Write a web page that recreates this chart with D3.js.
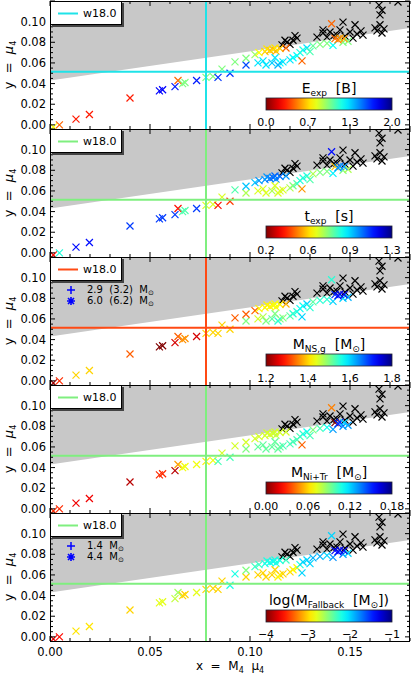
<!DOCTYPE html>
<html lang="en">
<head>
<meta charset="UTF-8">
<title>mu4 vs M4 mu4</title>
<script src="https://d3js.org/d3.v7.min.js"></script>
<style>
body{margin:0;background:#fff;}
text{font-family:"DejaVu Sans",sans-serif;fill:#000;white-space:pre;}
</style>
</head>
<body>
<div id="chart"></div>
<script>
// exploding models: x = M4*mu4, y = mu4
var xVals = [0.0017,0.0047,0.013,0.0197,0.040,0.0547,0.0563,0.0625,0.064,0.0663,0.0675,0.0733,0.078,0.0815,0.084,0.086,0.090,0.0925,0.098,0.098,
  0.1025,0.104,0.1065,0.1075,0.110,0.1115,0.113,0.115,0.1125,0.115,0.1165,0.118,0.120,0.1215,0.1235,0.125,0.1265,0.126,0.1285,0.1315,
  0.135,0.1385,0.1415,0.1465,0.149,0.1425,0.145,0.144,0.147,0.1408,0.108,0.111,0.114,0.1085,0.1125,0.1045,0.130];
var yVals = [-0.002,0.000,0.0055,0.010,0.026,0.033,0.034,0.037,0.043,0.040,0.041,0.043,0.046,0.047,0.046,0.054,0.050,0.061,0.058,0.0645,
  0.068,0.060,0.062,0.071,0.072,0.073,0.0715,0.074,0.065,0.060,0.061,0.0745,0.063,0.065,0.067,0.070,0.0725,0.062,0.0745,0.0765,
  0.078,0.079,0.077,0.080,0.081,0.0835,0.084,0.0825,0.0835,0.098,0.058,0.060,0.058,0.0735,0.0745,0.070,0.071];
var eExp = [0.75,0.45,0.30,0.30,0.30,1.75,1.75,1.70,0.45,1.00,1.00,1.70,1.00,1.00,1.65,1.00,1.65,1.00,1.60,1.00,
  0.95,1.30,1.30,0.65,0.60,0.65,0.60,0.65,1.30,1.25,1.30,0.45,1.30,1.25,1.25,1.20,1.20,0.45,1.30,1.05,
  1.00,1.00,1.25,1.00,1.00,0.45,0.60,0.50,0.55,0.45,1.30,1.35,1.40,0.70,0.70,0.75,1.10];
var tExp = [0.35,0.85,1.15,1.15,1.10,1.10,1.10,1.10,0.35,0.80,0.80,1.10,0.65,0.65,0.35,0.65,0.40,0.80,0.70,0.95,
  0.95,0.65,0.65,1.00,1.05,1.05,1.00,1.05,0.65,0.65,0.65,1.00,0.70,0.75,0.80,0.85,0.85,0.50,0.85,0.70,
  0.75,0.75,0.90,0.75,0.70,0.55,1.05,1.00,1.00,1.15,0.65,0.70,0.65,1.00,1.05,1.00,0.80];
var mNS = [1.22,1.30,1.40,1.40,1.33,1.20,1.20,1.25,1.33,1.36,1.36,1.25,1.40,1.40,1.40,1.40,1.40,1.33,1.50,1.33,
  1.33,1.45,1.47,1.42,1.42,1.42,1.43,1.42,1.50,1.50,1.50,1.38,1.52,1.55,1.55,1.57,1.57,1.60,1.60,1.52,
  1.55,1.55,1.60,1.60,1.62,1.70,1.75,1.72,1.74,1.55,1.50,1.52,1.55,1.42,1.43,1.42,1.55];
var mNi = [0.03,0.03,0.02,0.02,0.01,0.03,0.03,0.01,0.05,0.07,0.07,0.07,0.065,0.07,0.10,0.075,0.10,0.075,0.09,0.075,
  0.075,0.095,0.095,0.075,0.075,0.075,0.08,0.075,0.095,0.095,0.10,0.075,0.10,0.10,0.10,0.10,0.105,0.04,0.11,0.09,
  0.10,0.11,0.13,0.13,0.13,0.0,0.15,0.15,0.12,0.045,0.095,0.095,0.095,0.075,0.075,0.075,0.10];
var logMfb = [-3.7,-3.6,-2.95,-2.95,-3.0,-2.8,-2.8,-2.7,-2.6,-3.0,-3.0,-2.8,-3.0,-3.0,-3.0,-3.0,-2.2,-2.2,-3.0,-2.5,
  -2.3,-3.0,-3.0,-2.2,-2.2,-2.1,-2.2,-2.2,-3.0,-3.0,-3.0,-2.3,-3.0,-2.9,-2.9,-2.2,-2.0,-2.0,-2.0,-1.9,
  -1.9,-2.0,-1.8,-1.8,-2.0,-1.4,-1.3,-1.4,-1.3,-2.0,-3.0,-3.0,-2.9,-2.2,-2.2,-2.3,-2.0];

// BH forming models (black)
var bhX = [0.116,0.1185,0.1215,0.1235,0.1175,0.120,0.1225,0.1335,0.1365,0.140,0.1435,0.1465,0.150,0.1525,0.1535,0.1565,
  0.1475,0.145,0.1515,0.1625,0.165,0.166,0.1635,0.165,0.166,0.1645,0.174,0.1385,0.142,0.1555,0.167,0.1365];
var bhY = [0.0775,0.080,0.082,0.084,0.082,0.078,0.0865,0.085,0.089,0.090,0.087,0.0995,0.090,0.097,0.088,0.087,
  0.086,0.092,0.084,0.094,0.097,0.089,0.091,0.1065,0.111,0.116,0.119,0.085,0.0865,0.091,0.093,0.092];

// w18.0 calibration
var refX = 0.078, refY = 0.0515;
var k1 = 0.283, k2 = 0.043;

var xTicks = [0, 0.05, 0.10, 0.15];
var yTicks = [0, 0.02, 0.04, 0.06, 0.08, 0.10];
var eTicks = [0, 2/3, 4/3, 2];
var tTicks = [0.2, 0.2+1.1/3, 0.2+2.2/3, 1.3];
var nsTicks = [1.2, 1.4, 1.6, 1.8];
var niTicks = [0, 0.06, 0.12, 0.18];
var fbTicks = [-4, -3, -2, -1];

var panels = [
  {vals:eExp, ticks:eTicks, fmt:".1f", line:"#1fe3e8", title:[["E"],["exp","s"],["  [B]"]]},
  {vals:tExp, ticks:tTicks, fmt:".1f", line:"#7fef7f", title:[["t"],["exp","s"],["  [s]"]]},
  {vals:mNS, ticks:nsTicks, fmt:".1f", line:"#ff4a14", title:[["M"],["NS,g","s"],["  [M"],["\u2299","s"],["]"]],
    mass:["2.9  (3.2)  M","6.0  (6.2)  M"]},
  {vals:mNi, ticks:niTicks, fmt:".2f", line:"#7fef7f", title:[["M"],["Ni+Tr","s"],["  [M"],["\u2299","s"],["]"]]},
  {vals:logMfb, ticks:fbTicks, fmt:"d", line:"#7fef7f", title:[["log(M"],["Fallback","s"],["  [M"],["\u2299","s"],["])"]],
    mass:["1.4  M","4.4  M"]}
];

var width = 411, height = 675;
var left = 50, right = 410, top0 = 1, panelH = 128;

var svg = d3.select("#chart").append("svg")
  .attr("width", width).attr("height", height);

function jet(t) {
  var c = function(v) { return Math.max(0, Math.min(1, v)); };
  return d3.rgb(255*c(1.5-Math.abs(4*t-3)), 255*c(1.5-Math.abs(4*t-2)), 255*c(1.5-Math.abs(4*t-1)));
}

// colorbar gradient: dark red -> dark blue
var grad = svg.append("defs").append("linearGradient").attr("id", "cbgrad");
d3.range(0, 1.0001, 0.05).forEach(function(t) {
  grad.append("stop").attr("offset", (t*100)+"%").attr("stop-color", jet(1-t));
});

function rich(sel, parts, size, subSize) {
  var shifted = false;
  parts.forEach(function(p) {
    var ts = sel.append("tspan").text(p[0]);
    if (p[1] === "s") {
      ts.attr("font-size", subSize).attr("dy", shifted ? 0 : size*0.22);
      shifted = true;
    } else {
      ts.attr("font-size", size);
      if (shifted) { ts.attr("dy", -size*0.22); shifted = false; }
    }
  });
}

var x = d3.scaleLinear().domain([0, 0.18]).range([left, right]);
var crossPath = "M-3.5,-3.5L3.5,3.5M-3.5,3.5L3.5,-3.5";

panels.forEach(function(p, i) {
  var top = top0 + i*panelH, bot = top + panelH;
  var y = d3.scaleLinear().domain([-0.004, 0.12]).range([bot, top]);
  var g = svg.append("g");

  g.append("clipPath").attr("id", "clip"+i).append("rect")
    .attr("x", left).attr("y", top).attr("width", right-left).attr("height", panelH);
  var pg = g.append("g").attr("clip-path", "url(#clip"+i+")");

  // failed-explosion region
  var area = d3.area().x(function(d){ return x(d); })
    .y0(y(0.12)).y1(function(d){ return y(k2 + k1*d); });
  pg.append("path").attr("d", area([0, 0.18])).attr("fill", "#c8c8c8");

  // BH models
  pg.selectAll("path.bh").data(bhX).enter().append("path")
    .attr("class", "bh")
    .attr("transform", function(d, j){ return "translate("+x(d)+","+y(bhY[j])+")"; })
    .attr("d", crossPath).attr("stroke", "#000").attr("stroke-width", 1.2).attr("fill", "none");

  var lo = p.ticks[0], hi = p.ticks[p.ticks.length-1];
  pg.selectAll("path.ex").data(xVals).enter().append("path")
    .attr("class", "ex")
    .attr("transform", function(d, j){ return "translate("+x(d)+","+y(yVals[j])+")"; })
    .attr("d", crossPath)
    .attr("stroke", function(d, j){ return jet(1 - (p.vals[j]-lo)/(hi-lo)); })
    .attr("stroke-width", 1.2).attr("fill", "none");

  // reference lines
  pg.append("line").attr("x1", left).attr("x2", right).attr("y1", y(refY)).attr("y2", y(refY))
    .attr("stroke", p.line).attr("stroke-width", 2);
  pg.append("line").attr("x1", x(refX)).attr("x2", x(refX)).attr("y1", top).attr("y2", bot)
    .attr("stroke", p.line).attr("stroke-width", 2);

  // ticks on all four sides, pointing inwards
  var yMinor = d3.range(0, 0.1201, 0.005);
  var xMinor = d3.range(0, 0.1801, 0.01);
  yMinor.forEach(function(v) {
    var major = Math.abs(v/0.02 - Math.round(v/0.02)) < 1e-6;
    var len = major ? 5 : 3;
    g.append("line").attr("x1", left).attr("x2", left+len).attr("y1", y(v)).attr("y2", y(v)).attr("stroke", "#000");
    g.append("line").attr("x1", right).attr("x2", right-len).attr("y1", y(v)).attr("y2", y(v)).attr("stroke", "#000");
  });
  xMinor.forEach(function(v) {
    var major = Math.abs(v/0.05 - Math.round(v/0.05)) < 1e-6;
    var len = major ? 5 : 3;
    g.append("line").attr("x1", x(v)).attr("x2", x(v)).attr("y1", bot).attr("y2", bot-len).attr("stroke", "#000");
    g.append("line").attr("x1", x(v)).attr("x2", x(v)).attr("y1", top).attr("y2", top+len).attr("stroke", "#000");
  });
  g.append("rect").attr("x", left+0.5).attr("y", top+0.5).attr("width", right-left-1).attr("height", panelH)
    .attr("fill", "none").attr("stroke", "#000").attr("stroke-width", 1);

  g.selectAll("text.yt").data(yTicks).enter().append("text")
    .attr("class", "yt").attr("x", 46).attr("y", function(d){ return y(d)+4; })
    .attr("text-anchor", "end").attr("font-size", 11.5)
    .text(d3.format(".2f"));

  var yl = g.append("text").attr("transform", "translate(13,"+(top+panelH/2)+") rotate(-90)")
    .attr("text-anchor", "middle");
  rich(yl, [["y  =  "], ["\u03bc"], ["4","s"]], 13, 8);
  yl.select("tspan:nth-child(2)").attr("font-style", "italic");

  // legend box
  g.append("rect").attr("x", left+2).attr("y", top+2).attr("width", 72).attr("height", 24).attr("fill", "#444");
  g.append("rect").attr("x", left+0.5).attr("y", top+0.5).attr("width", 71).attr("height", 23)
    .attr("fill", "#fff").attr("stroke", "#000");
  g.append("line").attr("x1", 58).attr("x2", 78).attr("y1", top+12.5).attr("y2", top+12.5)
    .attr("stroke", p.line).attr("stroke-width", 2);
  g.append("text").attr("x", 83).attr("y", top+15.5).attr("font-size", 11).text("w18.0");

  if (p.mass) {
    g.append("path").attr("transform", "translate(71,"+(top+33)+")")
      .attr("d", "M-4,0L4,0M0,-4L0,4").attr("stroke", "#0000ff").attr("stroke-width", 1.5);
    g.append("path").attr("transform", "translate(71,"+(top+44)+")")
      .attr("d", "M-4,0L4,0M0,-4L0,4M-3,-3L3,3M-3,3L3,-3").attr("stroke", "#0000ff").attr("stroke-width", 1.6);
    p.mass.forEach(function(s, j) {
      var t = g.append("text").attr("x", 87).attr("y", top+36+j*11);
      rich(t, [[s], ["\u2299","s"]], 10, 7);
    });
  }

  // colorbar
  var cbx = d3.scaleLinear().domain([lo, hi]).range([266, 392]);
  g.append("rect").attr("x", 266).attr("y", top+97).attr("width", 126).attr("height", 12)
    .attr("fill", "url(#cbgrad)").attr("stroke", "#223").attr("stroke-width", 0.8);
  var ct = g.append("text").attr("x", 329).attr("y", top+92).attr("text-anchor", "middle");
  rich(ct, p.title, 14, 9);
  var fmt = d3.format(p.fmt);
  g.selectAll("text.cbt").data(p.ticks).enter().append("text")
    .attr("class", "cbt").attr("x", function(d){ return cbx(d); }).attr("y", top+125)
    .attr("text-anchor", "middle").attr("font-size", 11)
    .text(function(d){ return fmt(d); });
});

// bottom x axis labels
var xb = top0 + 5*panelH;
svg.selectAll("text.xt").data(xTicks).enter().append("text")
  .attr("class", "xt").attr("x", function(d){ return x(d); }).attr("y", xb+15)
  .attr("text-anchor", "middle").attr("font-size", 11.5)
  .text(d3.format(".2f"));

var xl = svg.append("text").attr("x", (left+right)/2).attr("y", 670).attr("text-anchor", "middle");
rich(xl, [["x  =  M"], ["4","s"], ["  \u03bc"], ["4","s"]], 12, 8);
</script>
</body>
</html>
